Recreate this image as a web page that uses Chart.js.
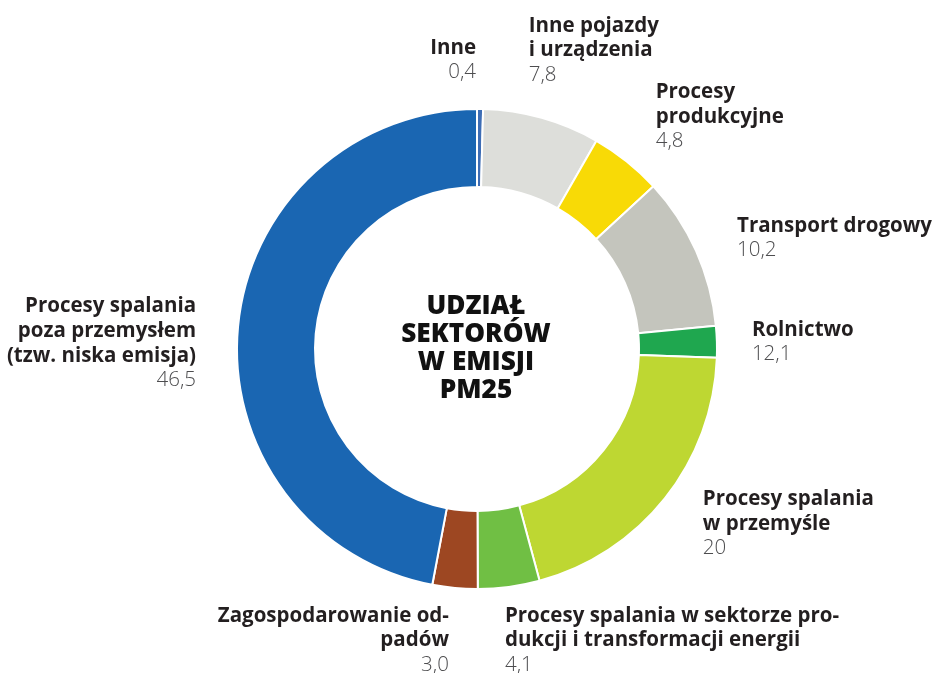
<!DOCTYPE html>
<html>
<head>
<meta charset="utf-8">
<script src="https://cdn.jsdelivr.net/npm/chart.js@4"></script>
<style>
  html, body { margin: 0; padding: 0; background: #fff; }
  #wrap { width: 936px; height: 673px; position: relative; }
</style>
</head>
<body>
<div id="wrap"><canvas id="myChart" width="936" height="673"></canvas></div>
<script>
// Sektory (kolejnosc zgodnie z ruchem wskazowek zegara, od gory)
const categories = [
  ["Inne"],
  ["Inne pojazdy", "i urządzenia"],
  ["Procesy", "produkcyjne"],
  ["Transport drogowy"],
  ["Rolnictwo"],
  ["Procesy spalania", "w przemyśle"],
  ["Procesy spalania w sektorze pro-", "dukcji i transformacji energii"],
  ["Zagospodarowanie od-", "padów"],
  ["Procesy spalania", "poza przemysłem", "(tzw. niska emisja)"],
];
// wielkosc wycinkow
const shares = [0.4, 7.8, 4.8, 10.2, 2.1, 20, 4.1, 3.0, 46.5];
// wartosci wypisane przy etykietach
const valueLabels = ["0,4", "7,8", "4,8", "10,2", "12,1", "20", "4,1", "3,0", "46,5"];
const colors = ["#3d6db5", "#dddeda", "#f8da06", "#c4c5bd", "#1fa74f", "#bed732", "#70bf44", "#9d4722", "#1a66b2"];
const centerTitle = ["UDZIAŁ", "SEKTORÓW", "W EMISJI", "PM25"];

// przesuniecie etykiet wzgledem srodka luku na krawedzi zewnetrznej
const labelOffsets = [
  [-4, -61, "right"], [-13, -92, "left"], [29, -69, "left"], [41, -25, "left"],
  [35, -12, "left"], [38, 1, "left"], [-4, 29, "left"], [-6, 28, "right"], [-42, -20, "right"],
];

const LINE_H = 24.6;

// Plugin rysujacy etykiety i tytul w srodku
const labelsPlugin = {
  id: "sectorLabels",
  afterDraw(chart) {
    const ctx = chart.ctx;
    const meta = chart.getDatasetMeta(0);
    ctx.save();
    ctx.textBaseline = "middle";
    meta.data.forEach((arc, i) => {
      const mid = (arc.startAngle + arc.endAngle) / 2;
      const px = arc.x + Math.cos(mid) * arc.outerRadius;
      const py = arc.y + Math.sin(mid) * arc.outerRadius;
      const [dx, dy, align] = labelOffsets[i];
      const x = px + dx;
      let y = py + dy;
      ctx.textAlign = align;
      categories[i].forEach((line) => {
        ctx.font = '700 20.5px "Open Sans"';
        ctx.fillStyle = "#231f20";
        ctx.fillText(line, x, y);
        y += LINE_H;
      });
      ctx.font = '300 20.5px "Open Sans"';
      ctx.fillStyle = "#4d4d4f";
      ctx.fillText(valueLabels[i], x, y);
    });

    // tytul w srodku
    const c = meta.data[0];
    ctx.font = '800 27px "Open Sans"';
    ctx.fillStyle = "#111";
    ctx.textAlign = "center";
    const h = 28;
    const top = c.y - ((centerTitle.length - 1) * h) / 2 - 1;
    centerTitle.forEach((t, k) => {
      ctx.save();
      ctx.translate(c.x - 1, top + k * h);
      ctx.scale(0.97, 1);
      ctx.fillText(t, 0, 0);
      ctx.restore();
    });
    ctx.restore();
  },
};

function main() {
  const ctx = document.getElementById("myChart").getContext("2d");
  new Chart(ctx, {
    type: "doughnut",
    data: {
      labels: categories.map((l) => l.join(" ")),
      datasets: [
        {
          data: shares,
          backgroundColor: colors,
          borderColor: "#ffffff",
          borderWidth: 2,
        },
      ],
    },
    options: {
      responsive: false,
      animation: false,
      cutout: "67.5%",
      layout: { padding: { top: 108, bottom: 83, left: 236, right: 218 } },
      plugins: {
        legend: { display: false },
        tooltip: { enabled: false },
      },
    },
    plugins: [labelsPlugin],
  });
}

document.addEventListener("DOMContentLoaded", main);
</script>
</body>
</html>
